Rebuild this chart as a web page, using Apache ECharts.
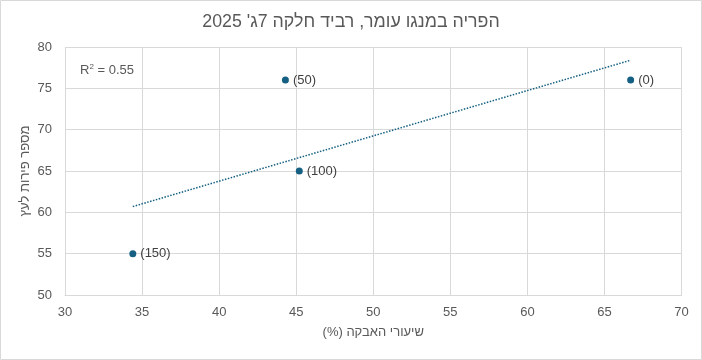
<!DOCTYPE html>
<html><head><meta charset="utf-8">
<script src="https://cdn.jsdelivr.net/npm/echarts@6/dist/echarts.min.js"></script>
<style>html,body{margin:0;padding:0;background:#fff}#c{width:702px;height:360px}</style>
</head><body><div id="c"></div>
<script>
const titleText = "הפריה במנגו עומר, רביד חלקה 7ג' 2025";
const xName = "שיעורי האבקה (%)";
const yName = "מספר פירות לעץ";
const pollination = [66.7, 44.3, 45.2, 34.4];
const fruits = [76, 76, 65, 55];
const pointLabels = ["(0)", "(50)", "(100)", "(150)"];
const trendX = [34.4, 66.7];
const trendY = [60.7, 78.4];
const r2Text = "0.55";
const xMin = 30, xMax = 70, xStep = 5;
const yMin = 50, yMax = 80, yStep = 5;

const FONT = "'Liberation Sans', 'DejaVu Sans', sans-serif";
const C = "#156082";
const RLM = "\u200F";
const chart = echarts.init(document.getElementById('c'), null, {renderer: 'canvas'});
chart.setOption({
  animation: false,
  backgroundColor: '#fff',
  title: {text: titleText, left: 'center', top: 8,
    textStyle: {fontFamily: FONT, fontSize: 17.8, fontWeight: 'normal', color: '#595959'}},
  grid: {left: 65, right: 20.5, top: 47, bottom: 65, containLabel: false},
  xAxis: {type: 'value', min: xMin, max: xMax, interval: xStep,
    name: xName + RLM, nameLocation: 'middle', nameGap: 31, nameMoveOverlap: false,
    nameTextStyle: {fontFamily: FONT, fontSize: 13, color: '#595959'},
    axisLine: {show: true, lineStyle: {color: '#d9d9d9', width: 1}},
    axisTick: {show: false},
    axisLabel: {fontFamily: FONT, fontSize: 13, color: '#595959', margin: 11},
    splitLine: {show: true, lineStyle: {color: '#d9d9d9', width: 1}}},
  yAxis: {type: 'value', min: yMin, max: yMax, interval: yStep,
    name: yName, nameLocation: 'middle', nameGap: 33, nameMoveOverlap: false,
    nameTextStyle: {fontFamily: FONT, fontSize: 13, color: '#595959'},
    axisLine: {show: false},
    axisTick: {show: false},
    axisLabel: {fontFamily: FONT, fontSize: 13, color: '#595959', margin: 13},
    splitLine: {show: true, lineStyle: {color: '#d9d9d9', width: 1}}},
  graphic: [
    {type: 'rect', shape: {x: 0.5, y: 0.5, width: 701, height: 359},
     style: {fill: 'none', stroke: '#d9d9d9', lineWidth: 1}, z: 100, silent: true},
    {type: 'text', left: 80, top: 63,
     style: {text: '{a|R}{s|2}{a| = ' + r2Text + '}',
       rich: {a: {fontFamily: FONT, fontSize: 13, fill: '#595959', color: '#595959'},
              s: {fontFamily: FONT, fontSize: 8, fill: '#595959', color: '#595959', verticalAlign: 'top', padding: [0, 0, 6, 0]}}}}
  ],
  series: [
    {type: 'line', data: trendX.map((x, i) => [x, trendY[i]]), showSymbol: false, symbol: 'none',
     lineStyle: {color: C, width: 1.5, type: [1.5, 1.5]}, z: 2, silent: true},
    {type: 'scatter', data: pollination.map((x, i) => [x, fruits[i]]),
     symbol: 'circle', symbolSize: 7, itemStyle: {color: C, opacity: 1}, z: 3,
     label: {show: true, position: 'right', distance: 4,
       formatter: p => pointLabels[p.dataIndex],
       fontFamily: FONT, fontSize: 13, color: '#404040'}}
  ]
});
</script></body></html>
